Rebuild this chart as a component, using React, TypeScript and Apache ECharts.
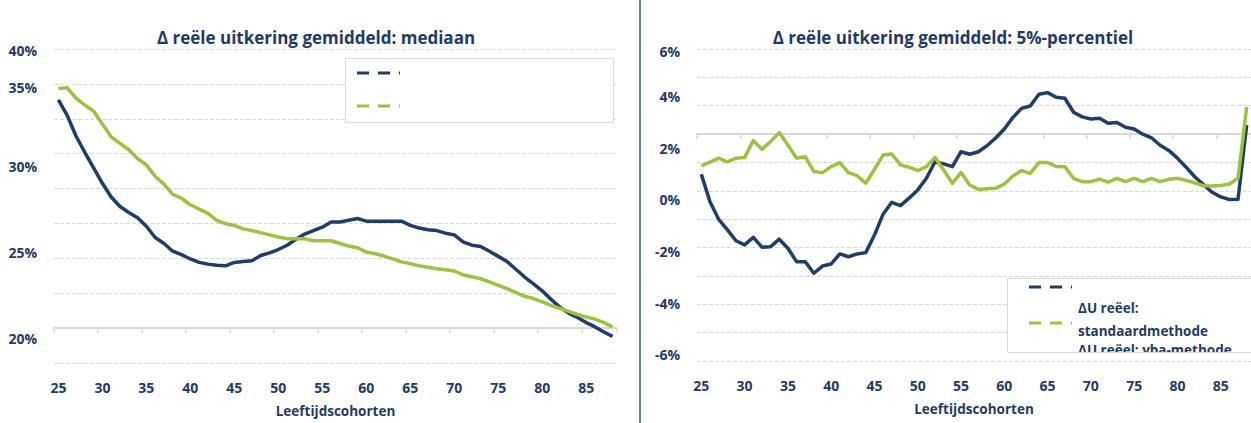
import React, { useEffect, useRef } from "react";
import * as echarts from "echarts";

const ages = [
  "25", "26", "27", "28", "29", "30", "31", "32", "33", "34",
  "35", "36", "37", "38", "39", "40", "41", "42", "43", "44",
  "45", "46", "47", "48", "49", "50", "51", "52", "53", "54",
  "55", "56", "57", "58", "59", "60", "61", "62", "63", "64",
  "65", "66", "67", "68", "69", "70", "71", "72", "73", "74",
  "75", "76", "77", "78", "79", "80", "81", "82", "83", "84",
  "85", "86", "87", "88",
];

// Mediaan (left panel)
const medianStd = [
  33.9, 33.0, 31.8, 30.85, 29.95, 29.05, 28.25, 27.7, 27.35, 27.05,
  26.55, 25.9, 25.55, 25.1, 24.9, 24.65, 24.45, 24.35, 24.28, 24.25,
  24.45, 24.5, 24.55, 24.85, 25.0, 25.2, 25.45, 25.8, 26.1, 26.3,
  26.5, 26.8, 26.8, 26.9, 27.0, 26.85, 26.85, 26.85, 26.85, 26.85,
  26.6, 26.45, 26.35, 26.3, 26.15, 26.05, 25.65, 25.45, 25.38, 25.1,
  24.8, 24.5, 24.05, 23.6, 23.2, 22.8, 22.3, 21.85, 21.5, 21.25,
  20.95, 20.7, 20.4, 20.15,
];
const medianVba = [
  34.57, 34.6, 34.0, 33.6, 33.25, 32.5, 31.75, 31.37, 31.0, 30.48,
  30.12, 29.45, 29.0, 28.4, 28.18, 27.8, 27.55, 27.3, 26.9, 26.7,
  26.6, 26.4, 26.3, 26.18, 26.05, 25.93, 25.83, 25.83, 25.82, 25.71,
  25.71, 25.71, 25.55, 25.4, 25.3, 25.05, 24.95, 24.82, 24.65, 24.48,
  24.38, 24.25, 24.17, 24.08, 24.02, 23.95, 23.73, 23.62, 23.5, 23.32,
  23.12, 22.93, 22.7, 22.48, 22.35, 22.15, 21.95, 21.78, 21.6, 21.42,
  21.28, 21.15, 20.95, 20.7,
];

// 5%-percentiel (right panel)
const p5Std = [
  1.0, -0.07, -0.75, -1.15, -1.58, -1.74, -1.45, -1.83, -1.81, -1.52,
  -1.87, -2.39, -2.39, -2.84, -2.56, -2.48, -2.09, -2.2, -2.09, -2.04,
  -1.36, -0.55, -0.09, -0.22, 0.07, 0.39, 0.84, 1.48, 1.4, 1.29,
  1.87, 1.77, 1.87, 2.1, 2.4, 2.75, 3.2, 3.55, 3.64, 4.1,
  4.16, 3.98, 3.94, 3.4, 3.22, 3.14, 3.17, 2.97, 3.0, 2.82,
  2.75, 2.55, 2.41, 2.12, 1.92, 1.62, 1.27, 0.9, 0.6, 0.3,
  0.12, 0.02, 0.03, 2.9,
];
const p5Vba = [
  1.32, 1.47, 1.62, 1.48, 1.62, 1.65, 2.3, 1.97, 2.26, 2.61,
  2.13, 1.62, 1.68, 1.1, 1.06, 1.29, 1.45, 1.06, 0.94, 0.65,
  1.19, 1.74, 1.78, 1.36, 1.27, 1.14, 1.29, 1.65, 1.16, 0.65,
  1.06, 0.58, 0.41, 0.43, 0.45, 0.62, 0.93, 1.14, 1.03, 1.45,
  1.45, 1.3, 1.29, 0.84, 0.71, 0.71, 0.81, 0.69, 0.84, 0.71,
  0.84, 0.71, 0.84, 0.71, 0.8, 0.84, 0.76, 0.66, 0.55, 0.54,
  0.56, 0.62, 0.84, 3.6,
];

// Tick labels as printed in the source (its upper labels sit off the regular scale)
const leftTickValues = [20, 25, 30, 34.65, 36.8];
const leftTickLabels = ["20%", "25%", "30%", "35%", "40%"];
const rightTickValues = [-6, -4, -2, 0, 2, 4, 5.74];
const rightTickLabels = ["-6%", "-4%", "-2%", "0%", "2%", "4%", "6%"];

const titles = [
  "Δ reële uitkering gemiddeld: mediaan",
  "Δ reële uitkering gemiddeld: 5%-percentiel",
];
const xAxisName = "Leeftijdscohorten";
const legendLines = ["ΔU reëel:", "standaardmethode", "ΔU reëel: vba-methode"];
const seriesNames = ["ΔU reëel: standaardmethode", "ΔU reëel: vba-methode"];

const NAVY = "#1F3D6B";
const GREEN = "#9DC33C";
const TEXT = "#1F3A66";
const GRID = "#D9D9D9";
const DIVIDER = "#2E5C8A";
const FONT = "'Open Sans', Lato, sans-serif";

function labelAxis(gridIndex: number) {
  return {
    gridIndex,
    type: "category",
    data: ages,
    position: "bottom",
    boundaryGap: true,
    axisLine: { show: false },
    axisTick: { show: false },
    splitLine: { show: false },
    axisLabel: {
      interval: 4,
      margin: 17,
      color: TEXT,
      fontWeight: "bold",
      fontSize: 14,
      fontFamily: FONT,
    },
    name: xAxisName,
    nameLocation: "middle",
    nameGap: 41,
    nameTextStyle: {
      color: TEXT,
      fontWeight: "bold",
      fontSize: 13.5,
      fontFamily: FONT,
    },
  };
}

function lineAxis(gridIndex: number, zeroAxis: number) {
  return {
    gridIndex,
    type: "category",
    data: ages,
    position: "bottom",
    boundaryGap: true,
    axisLine: {
      show: true,
      onZero: true,
      onZeroAxisIndex: zeroAxis,
      lineStyle: { color: GRID, width: 2 },
    },
    axisTick: {
      show: true,
      interval: 4,
      length: 5,
      lineStyle: { color: GRID, width: 1.5 },
    },
    axisLabel: { show: false },
    splitLine: { show: false },
  };
}

function dataAxis(gridIndex: number, min: number, max: number, values: number[], labels: string[]) {
  return {
    gridIndex,
    type: "value",
    position: "left",
    min,
    max,
    axisLine: { show: false },
    axisTick: { show: false },
    splitLine: { show: false },
    axisLabel: {
      customValues: values,
      margin: 17,
      color: TEXT,
      fontWeight: "bold",
      fontSize: 14,
      fontFamily: FONT,
      formatter: (v: number) => {
        const i = values.indexOf(v);
        return i >= 0 ? labels[i] : "";
      },
    },
  };
}

function gridAxis(gridIndex: number, min: number, max: number, interval: number) {
  return {
    gridIndex,
    type: "value",
    position: "right",
    min,
    max,
    interval,
    axisLine: { show: false },
    axisTick: { show: false },
    axisLabel: { show: false },
    splitLine: {
      show: true,
      lineStyle: { color: GRID, type: [4, 2], width: 1 },
    },
  };
}

function lineSeries(name: string, data: number[], color: string, xi: number, yi: number) {
  return {
    type: "line",
    name,
    data,
    xAxisIndex: xi,
    yAxisIndex: yi,
    symbol: "none",
    lineStyle: { color, width: 3.5, join: "round" },
    itemStyle: { color },
    z: 3,
  };
}

export default function App() {
  const ref = useRef<HTMLDivElement>(null);

  useEffect(() => {
    if (!ref.current) return;
    const chart = echarts.init(ref.current, undefined, { renderer: "svg" });

    const textStyle = (size: number) => ({
      fill: TEXT,
      fontSize: size,
      fontWeight: "bold",
      fontFamily: FONT,
    });

    const option: any = {
      animation: false,
      backgroundColor: "#ffffff",
      grid: [
        { left: 54, top: 49, width: 563, height: 314 },
        { left: 697, top: 49, width: 556, height: 312 },
      ],
      xAxis: [labelAxis(0), lineAxis(0, 1), labelAxis(1), lineAxis(1, 3)],
      yAxis: [
        dataAxis(0, 18.6, 36.86, leftTickValues, leftTickLabels),
        gridAxis(0, -2, 16, 2),
        dataAxis(1, -6.24, 5.85, rightTickValues, rightTickLabels),
        gridAxis(1, -8, 3, 1),
      ],
      series: [
        lineSeries(seriesNames[0], medianStd, NAVY, 0, 0),
        lineSeries(seriesNames[1], medianVba, GREEN, 0, 0),
        lineSeries(seriesNames[0], p5Std, NAVY, 2, 2),
        lineSeries(seriesNames[1], p5Vba, GREEN, 2, 2),
      ],
      graphic: [
        {
          type: "line",
          z: 10,
          shape: { x1: 640, y1: 0, x2: 640, y2: 423 },
          style: { stroke: DIVIDER, lineWidth: 1.5 },
        },
        {
          type: "text",
          z: 10,
          x: 316,
          y: 37,
          style: { ...textStyle(17), text: titles[0], align: "center", verticalAlign: "middle" },
        },
        {
          type: "text",
          z: 10,
          x: 953,
          y: 37,
          style: { ...textStyle(17), text: titles[1], align: "center", verticalAlign: "middle" },
        },
        // left legend (its labels are not shown in the source)
        {
          type: "rect",
          z: 10,
          shape: { x: 345.5, y: 58.5, width: 268, height: 64 },
          style: { fill: "#ffffff", stroke: GRID, lineWidth: 1 },
        },
        {
          type: "line",
          z: 11,
          shape: { x1: 357, y1: 73, x2: 400, y2: 73 },
          style: { stroke: NAVY, lineWidth: 3, lineDash: [12, 9] },
        },
        {
          type: "line",
          z: 11,
          shape: { x1: 357, y1: 106, x2: 400, y2: 106 },
          style: { stroke: GREEN, lineWidth: 3, lineDash: [12, 9] },
        },
        // right legend
        {
          type: "rect",
          z: 10,
          shape: { x: 1007.5, y: 278.5, width: 260, height: 74 },
          style: { fill: "#ffffff", stroke: "none" },
        },
        {
          type: "line",
          z: 11,
          shape: { x1: 1029, y1: 287, x2: 1072, y2: 287 },
          style: { stroke: NAVY, lineWidth: 3, lineDash: [12, 9] },
        },
        {
          type: "line",
          z: 11,
          shape: { x1: 1029, y1: 323, x2: 1072, y2: 323 },
          style: { stroke: GREEN, lineWidth: 3, lineDash: [12, 9] },
        },
        {
          type: "text",
          z: 11,
          x: 1078,
          y: 308,
          style: { ...textStyle(13.5), text: legendLines[0], verticalAlign: "middle" },
        },
        {
          type: "text",
          z: 11,
          x: 1078,
          y: 331,
          style: { ...textStyle(13.5), text: legendLines[1], verticalAlign: "middle" },
        },
        {
          type: "text",
          z: 11,
          x: 1078,
          y: 350,
          style: { ...textStyle(13.5), text: legendLines[2], verticalAlign: "middle" },
        },
        {
          type: "rect",
          z: 12,
          shape: { x: 1006, y: 353, width: 250, height: 6 },
          style: { fill: "#ffffff", stroke: "none" },
        },
        {
          type: "rect",
          z: 13,
          shape: { x: 1007.5, y: 278.5, width: 260, height: 74 },
          style: { fill: "none", stroke: GRID, lineWidth: 1 },
        },
      ],
    };

    chart.setOption(option);
    return () => chart.dispose();
  }, []);

  return (
    <div
      ref={ref}
      style={{ position: "fixed", left: 0, top: 0, width: 1251, height: 423, background: "#fff" }}
    />
  );
}
